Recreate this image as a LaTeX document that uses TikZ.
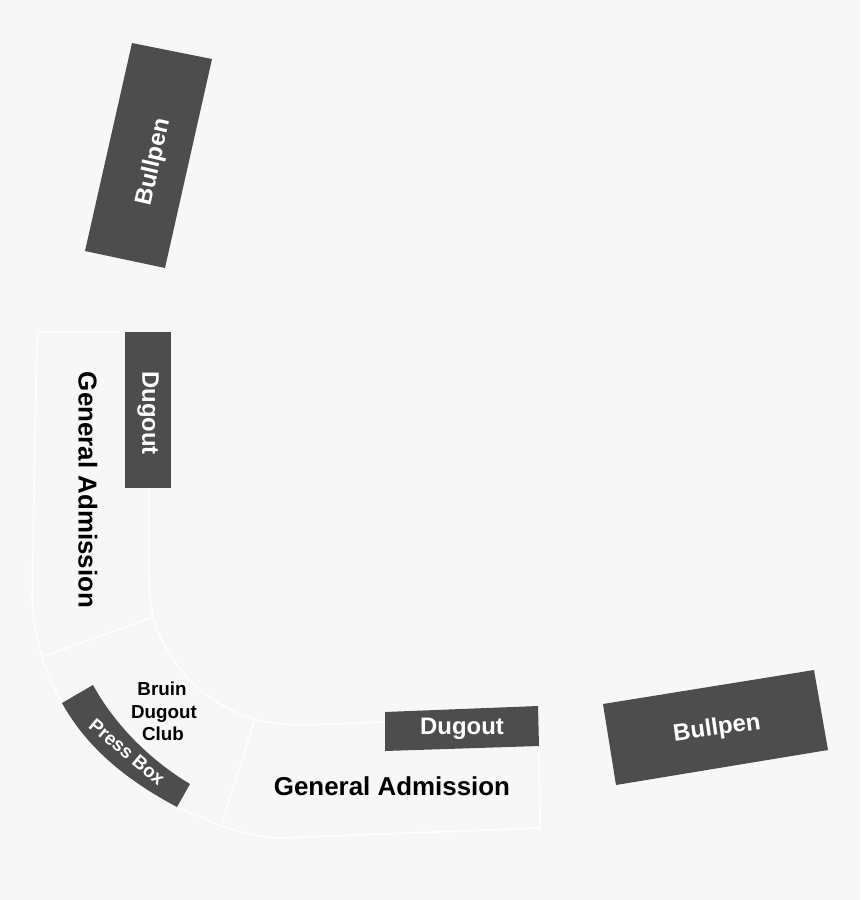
\documentclass[tikz,border=0pt]{standalone}
\usepackage{fontspec}
\setmainfont{Liberation Sans}
\usepackage{tikz}
\definecolor{bgGray}{HTML}{F7F7F7}
\definecolor{standGray}{HTML}{4D4D4D}
\tikzset{
    standLine/.style={white, line width=0.8pt},
    standBlock/.style={fill=standGray, draw=none},
    blockLabel/.style={text=white, font=\bfseries\fontsize{13.6}{15}\selectfont, inner sep=0},
    sectionLabel/.style={text=black, font=\bfseries\fontsize{14.75}{16}\selectfont, inner sep=0},
    clubLabel/.style={text=black, font=\bfseries\fontsize{10.7}{12}\selectfont, inner sep=0},
}

\begin{document}
\begin{tikzpicture}[x=0.02cm, y=-0.02cm]
    % background
    \fill[bgGray] (0,0) rectangle (860,900);
    \useasboundingbox (0,0) rectangle (860,900);

    % left stand
    \draw[standLine] (125,332) -- (37,332) -- (32,600) .. controls (33,622) and (37,640) .. (42,657);
    \draw[standLine] (149,488) -- (149,575) .. controls (149,590) and (151,605) .. (153,617);
    \draw[standLine] (153,617) -- (42,657);

    % club
    \draw[standLine] (42,657) .. controls (47,672) and (54,688) .. (62,703);
    \draw[standLine] (153,617) .. controls (167,665) and (205,705) .. (255,719);
    \draw[standLine] (177,807) -- (221,826);
    \draw[standLine] (255,719) -- (221,826);

    % bottom stand
    \draw[standLine] (255,719) .. controls (272,724) and (288,725) .. (305,725) -- (385,722);
    \draw[standLine] (221,826) .. controls (240,832) and (258,837) .. (277,838) -- (540,828) -- (539,746);

    % bullpens
    \fill[standBlock] (132,43) -- (212,59) -- (165,268) -- (85,251) -- cycle;
    \fill[standBlock] (603,704) -- (814,670) -- (828,750) -- (616,785) -- cycle;

    % dugouts
    \fill[standBlock] (125,332) rectangle (171,488);
    \fill[standBlock] (385,712) -- (538,706) -- (539,746) -- (385,751) -- cycle;

    % press box
    \fill[standBlock] (62,703) -- (93,685) .. controls (115,725) and (150,760) .. (190,784)
        -- (177,807) .. controls (130,782) and (88,750) .. cycle;

    % labels
    \node[blockLabel, rotate=77] (bullpenTop) at (154,162) {Bullpen};
    \node[blockLabel, rotate=8] (bullpenRight) at (717,729) {Bullpen};
    \node[blockLabel, rotate=-90] (dugoutLeft) at (148,413) {Dugout};
    \node[blockLabel] (dugoutBottom) at (462,729) {Dugout};
    \node[sectionLabel, rotate=-90] (admissionLeft) at (88,490) {General Admission};
    \node[sectionLabel] (admissionBottom) at (392,786) {General Admission};
    \node[clubLabel] (clubTop) at (162,689) {Bruin};
    \node[clubLabel] (clubMiddle) at (164,714) {Dugout};
    \node[clubLabel] (clubBottom) at (163,734) {Club};
    \node[text=white, font=\bfseries\fontsize{10.7}{12}\selectfont, inner sep=0, rotate=-40] (pressBox) at (127,752) {Press Box};
\end{tikzpicture}
\end{document}
